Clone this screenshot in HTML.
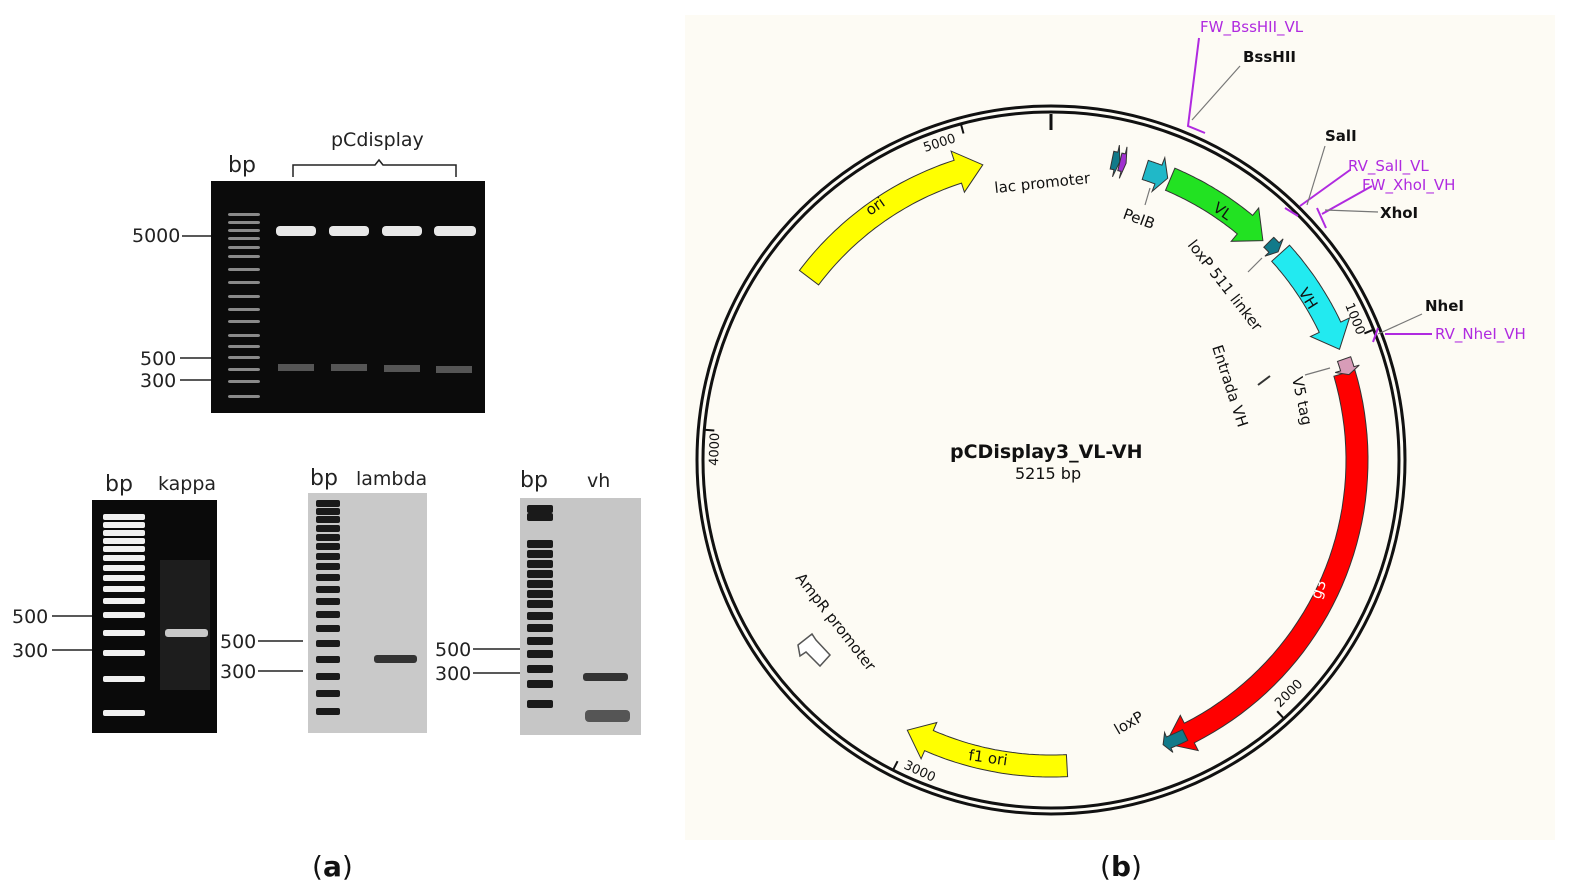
<!DOCTYPE html>
<html><head><meta charset="utf-8"><style>
body{margin:0;width:1577px;height:896px;background:#fff;overflow:hidden}
svg{position:absolute;left:0;top:0}
text{font-family:"DejaVu Sans","Liberation Sans",sans-serif}
</style></head><body>
<svg id="s" width="1577" height="896" viewBox="0 0 1577 896">
<rect x="685" y="15" width="870" height="825" fill="#fdfbf4"/>
<rect x="211" y="181" width="274" height="232" fill="#0b0b0b"/>
<g fill="#e8e8e8">
<rect x="276" y="226" width="40" height="10" rx="4"/><rect x="329" y="226" width="40" height="10" rx="4"/>
<rect x="382" y="226" width="40" height="10" rx="4"/><rect x="434" y="226" width="42" height="10" rx="4"/>
</g>
<g fill="#555"><rect x="278" y="364" width="36" height="7"/><rect x="331" y="364" width="36" height="7"/><rect x="384" y="365" width="36" height="7"/><rect x="436" y="366" width="36" height="7"/></g>
<g id="lad1" fill="#8a8a8a"></g>
<text x="228" y="172" font-size="22" fill="#222">bp</text>
<text x="331" y="146" font-size="19" fill="#222">pCdisplay</text>
<path d="M293,177 v-12 h82 l4,-5 l4,5 h73 v12" fill="none" stroke="#222" stroke-width="1.5"/>
<g font-size="19" fill="#222"><text x="132" y="242">5000</text><text x="140" y="365">500</text><text x="140" y="387">300</text></g>
<g stroke="#222" stroke-width="1.5"><line x1="182" y1="236" x2="211" y2="236"/><line x1="180" y1="358" x2="211" y2="358"/><line x1="180" y1="380" x2="211" y2="380"/></g>
<rect x="92" y="500" width="125" height="233" fill="#0a0a0a"/>
<rect x="160" y="560" width="50" height="130" fill="#2a2a2a" opacity="0.6"/>
<rect x="165" y="629" width="43" height="8" rx="3" fill="#c8c8c8"/>
<g id="lad2" fill="#f0f0f0"></g>
<text x="105" y="491" font-size="22" fill="#222">bp</text><text x="158" y="490" font-size="19" fill="#222">kappa</text>
<g font-size="19" fill="#222"><text x="12" y="623">500</text><text x="12" y="657">300</text></g>
<g stroke="#222" stroke-width="1.5"><line x1="52" y1="616" x2="92" y2="616"/><line x1="52" y1="650" x2="92" y2="650"/></g>
<rect x="308" y="493" width="119" height="240" fill="#c9c9c9"/>
<rect x="374" y="655" width="43" height="8" rx="3" fill="#333"/>
<g id="lad3" fill="#1a1a1a"></g>
<text x="310" y="485" font-size="22" fill="#222">bp</text><text x="356" y="485" font-size="19" fill="#222">lambda</text>
<g font-size="19" fill="#222"><text x="220" y="648">500</text><text x="220" y="678">300</text></g>
<g stroke="#222" stroke-width="1.5"><line x1="258" y1="641" x2="303" y2="641"/><line x1="258" y1="671" x2="303" y2="671"/></g>
<rect x="520" y="498" width="121" height="237" fill="#c6c6c6"/>
<rect x="583" y="673" width="45" height="8" rx="3" fill="#333"/><rect x="585" y="710" width="45" height="12" rx="4" fill="#555"/>
<g id="lad4" fill="#1a1a1a"></g>
<text x="520" y="487" font-size="22" fill="#222">bp</text><text x="587" y="487" font-size="19" fill="#222">vh</text>
<g font-size="19" fill="#222"><text x="435" y="656">500</text><text x="435" y="680">300</text></g>
<g stroke="#222" stroke-width="1.5"><line x1="473" y1="649" x2="520" y2="649"/><line x1="473" y1="673" x2="520" y2="673"/></g>
<text x="312" y="876" font-size="28" font-family="Liberation Serif" fill="#111">(<tspan font-weight="bold">a</tspan>)</text>
<text x="1100" y="876" font-size="28" font-family="Liberation Serif" fill="#111">(<tspan font-weight="bold">b</tspan>)</text>
<circle cx="1051" cy="460" r="354" fill="none" stroke="#111" stroke-width="3"/>
<circle cx="1051" cy="460" r="348" fill="none" stroke="#111" stroke-width="3"/>
<line x1="1051" y1="114" x2="1051" y2="130" stroke="#111" stroke-width="3"/>
<g id="feat"></g>
<g font-size="15" fill="#111">
<text x="950" y="458" font-size="19" font-weight="bold">pCDisplay3_VL-VH</text>
<text x="1015" y="479" font-size="16">5215 bp</text>
<text x="995" y="193" transform="rotate(-6 995 193)">lac promoter</text>
<text x="1122" y="218" transform="rotate(20 1122 218)">PeIB</text>
<text x="1187" y="245" transform="rotate(52 1187 245)">loxP 511 linker</text>
<text x="1212" y="347" transform="rotate(72 1212 347)">Entrada VH</text>
<text x="1292" y="378" transform="rotate(78 1292 378)">V5 tag</text>
<text x="795" y="578" transform="rotate(52 795 578)">AmpR promoter</text>
<text x="1118" y="735" transform="rotate(-30 1118 735)">loxP</text>
<text x="870" y="216" transform="rotate(-35 870 216)">ori</text>
<text x="968" y="760" transform="rotate(8 968 760)">f1 ori</text>
<text x="1212" y="210" transform="rotate(35 1212 210)">VL</text>
<text x="1298" y="292" transform="rotate(58 1298 292)">VH</text>
<text x="1320" y="600" fill="#fff" transform="rotate(-70 1320 600)">g3</text>
<text x="925" y="152" font-size="13" transform="rotate(-18 925 152)">5000</text>
<text x="718" y="466" font-size="13" transform="rotate(-88 718 466)">4000</text>
<text x="903" y="768" font-size="13" transform="rotate(25 903 768)">3000</text>
<text x="1280" y="708" font-size="13" transform="rotate(-45 1280 708)">2000</text>
<text x="1345" y="305" font-size="13" transform="rotate(68 1345 305)">1000</text>
</g>
<g font-size="15" font-weight="bold" fill="#111"><text x="1243" y="62">BssHII</text><text x="1325" y="141">SalI</text><text x="1380" y="218">XhoI</text><text x="1425" y="311">NheI</text></g>
<g font-size="15" fill="#b02ae0"><text x="1200" y="32">FW_BssHII_VL</text><text x="1348" y="171">RV_SalI_VL</text><text x="1362" y="190">FW_XhoI_VH</text><text x="1435" y="339">RV_NheI_VH</text></g>
<g stroke="#b02ae0" stroke-width="2" fill="none">
<path d="M1199,38 L1188,126 L1205,133"/><path d="M1372,186 L1322,214 M1317,208 L1326,228"/>
<path d="M1350,170 L1300,206 M1285,208 L1298,216"/><path d="M1432,334 L1385,334 M1378,328 L1373,342"/>
</g>
<g stroke="#777" stroke-width="1.2"><line x1="1240" y1="66" x2="1192" y2="120"/><line x1="1325" y1="146" x2="1307" y2="205"/><line x1="1378" y1="212" x2="1325" y2="210"/><line x1="1422" y1="314" x2="1378" y2="334"/><line x1="1145" y1="205" x2="1150" y2="188"/><line x1="1248" y1="272" x2="1262" y2="258"/><line x1="1305" y1="375" x2="1330" y2="368"/></g>
<line x1="1258" y1="385" x2="1270" y2="376" stroke="#333" stroke-width="2"/>
<polygon points="798,645 812,634 816,640 830,655 820,666 806,652 800,656" fill="#fff" stroke="#555" stroke-width="1.5"/>
</svg>
<script>
var NS="http://www.w3.org/2000/svg",cx=1051,cy=460;
function P(a,r){a=a*Math.PI/180;return [(cx+r*Math.sin(a)).toFixed(1),(cy-r*Math.cos(a)).toFixed(1)].join(",");}
function arrow(s,e,r,w,h,fill){var d=e>s?1:-1,hd=h/r*180/Math.PI,be=e-d*hd,pts=[],n=40,i;
for(i=0;i<=n;i++)pts.push(P(s+(be-s)*i/n,r+w/2));
pts.push(P(be,r+w*0.9));pts.push(P(e,r));pts.push(P(be,r-w*0.9));
for(i=n;i>=0;i--)pts.push(P(s+(be-s)*i/n,r-w/2));
var p=document.createElementNS(NS,"polygon");p.setAttribute("points",pts.join(" "));p.setAttribute("fill",fill);p.setAttribute("stroke","#333");p.setAttribute("stroke-width","1");document.getElementById("feat").appendChild(p);}
arrow(-53,-13,303,24,26,"#ffff00");
arrow(177,208,306,22,24,"#ffff00");
arrow(73.5,158,306,22,26,"#ff0000");
arrow(23,44,305,24,24,"#22e222");
arrow(48,69,309,24,24,"#22eaf0");
arrow(18,22.5,305,20,10,"#20b8c8");
arrow(45,47.5,308,14,6,"#117a8a");
arrow(71,74,310,14,6,"#d89cb8");
arrow(154,158.5,306,12,6,"#117a8a");
arrow(11.5,13,306,18,4,"#117a8a");arrow(13,14.2,306,18,3,"#a030d0");
function tick(a){var l=document.createElementNS(NS,"polyline");l.setAttribute("points",P(a,338)+" "+P(a,348));l.setAttribute("stroke","#111");l.setAttribute("stroke-width","2");document.getElementById("feat").appendChild(l);}
tick(-15);tick(-85);tick(-153);tick(138);tick(68);
function lad(id,x,w,ys,h){var g=document.getElementById(id);ys.forEach(function(y){var r=document.createElementNS(NS,"rect");r.setAttribute("x",x);r.setAttribute("y",y);r.setAttribute("width",w);r.setAttribute("height",h);r.setAttribute("rx",2);g.appendChild(r);});}
lad("lad1",228,32,[213,221,229,237,246,255,268,281,295,308,320,334,345,356,368,380,395],3);
lad("lad2",103,42,[514,522,530,538,546,555,565,575,586,598,612,630,650,676,710],6);
lad("lad3",316,24,[500,508,516,525,534,543,553,563,574,586,598,611,625,640,656,673,690,708],7);
lad("lad4",527,26,[505,513,540,550,560,570,580,590,600,612,624,637,650,665,680,700],8);
</script>
</body></html>
